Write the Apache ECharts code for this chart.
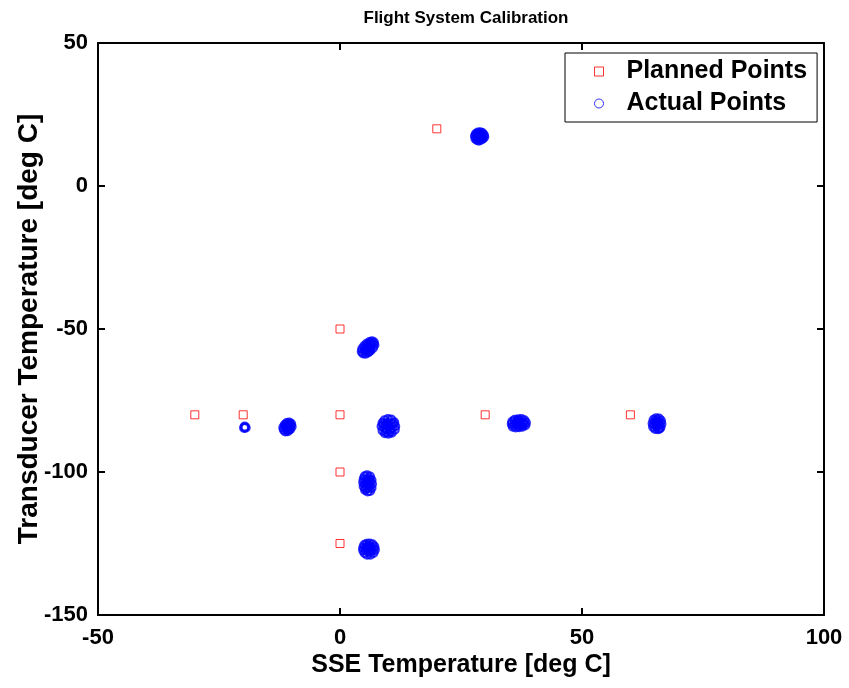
<!DOCTYPE html>
<html>
<head>
<meta charset="utf-8">
<script src="https://cdn.jsdelivr.net/npm/echarts@6/dist/echarts.min.js"></script>
<style>html,body{margin:0;padding:0;background:#fff;}#c{width:849px;height:688px;}</style>
</head>
<body>
<div id="c"></div>
<script>
var titleText = 'Flight System Calibration';
var xName = 'SSE Temperature [deg C]';
var yName = 'Transducer Temperature [deg C]';
var xTicks = [-50, 0, 50, 100];
var yTicks = [-150, -100, -50, 0, 50];

var plannedPoints = [[20,20],[0,-50],[-30,-80],[-20,-80],[0,-80],[30,-80],[60,-80],[0,-100],[0,-125]];

var clusterA = [[28.0,16.6],[28.3,16.1],[28.7,15.9],[29.1,16.2],[29.5,16.6],[29.8,17.2],[29.7,17.9],[29.4,18.5],[29.0,18.8],[28.5,18.7],[28.1,18.2],[27.9,17.5],[28.4,17.3],[28.8,17.0],[29.2,17.4],[28.9,17.9],[28.5,16.8],[29.3,16.9],[28.6,18.1],[28.8,17.6],[29.1,17.8],[28.3,17.8]];
var clusterB = [[4.5,-57.9],[4.8,-58.5],[5.3,-58.6],[5.8,-58.2],[6.3,-57.5],[6.8,-56.6],[7.1,-55.6],[7.0,-54.7],[6.6,-54.3],[6.1,-54.6],[5.5,-55.2],[5.0,-56.0],[4.6,-56.9],[5.4,-57.3],[5.9,-56.6],[6.4,-55.8],[5.7,-55.9],[6.2,-56.9],[5.1,-57.6],[6.7,-55.2],[5.2,-56.7],[6.0,-57.7],[6.3,-55.1]];
var clusterC = [[-19.7,-84.1],[-19.5,-84.5],[-19.8,-84.6]];
var clusterD = [[-11.6,-85.2],[-11.3,-85.8],[-10.8,-85.7],[-10.3,-85.0],[-10.0,-84.1],[-10.1,-83.2],[-10.5,-82.7],[-11.0,-82.9],[-11.4,-83.5],[-11.7,-84.4],[-11.0,-84.6],[-10.6,-84.0],[-10.7,-83.4],[-11.2,-84.0],[-10.5,-85.1],[-10.9,-85.2],[-10.3,-83.7]];
var clusterE = [[8.6,-84.0],[8.8,-85.5],[9.3,-86.4],[10.0,-86.6],[10.7,-86.2],[11.3,-85.2],[11.4,-84.0],[11.2,-82.6],[10.6,-81.7],[9.9,-81.5],[9.2,-81.9],[8.8,-82.8],[9.4,-83.5],[10.1,-84.0],[10.7,-83.3],[9.6,-85.0],[10.4,-85.2],[10.0,-82.6],[9.2,-84.6],[10.8,-84.5],[9.8,-83.2],[10.3,-85.9],[9.6,-86.0],[11.0,-83.0],[9.0,-83.3]];
var clusterF = [[35.5,-83.2],[35.7,-84.1],[36.3,-84.4],[37.0,-84.3],[37.7,-84.1],[38.3,-83.6],[38.4,-82.7],[38.1,-81.9],[37.5,-81.5],[36.8,-81.6],[36.1,-81.8],[35.6,-82.4],[36.4,-83.0],[37.2,-82.9],[37.8,-82.6],[36.7,-83.7],[37.4,-83.6],[36.6,-82.3],[37.1,-82.1],[36.0,-83.5],[37.9,-83.3]];
var clusterG = [[64.6,-83.0],[64.7,-84.2],[65.1,-84.9],[65.7,-85.0],[66.2,-84.4],[66.4,-83.2],[66.3,-82.0],[65.9,-81.3],[65.3,-81.2],[64.8,-81.8],[65.5,-83.1],[65.2,-82.4],[65.9,-82.6],[65.4,-84.0],[65.9,-83.7],[65.0,-83.4],[65.6,-81.9],[66.0,-84.8]];
var clusterH = [[4.9,-102.5],[5.1,-101.5],[5.6,-101.2],[6.2,-101.6],[6.5,-102.8],[6.6,-104.2],[6.5,-105.6],[6.2,-106.6],[5.7,-106.8],[5.2,-106.3],[4.9,-105.0],[4.8,-103.6],[5.4,-103.0],[5.9,-102.4],[6.0,-104.0],[5.5,-104.6],[5.9,-105.6],[5.3,-105.7],[6.2,-103.3],[5.2,-104.2],[5.7,-103.6],[6.1,-104.9]];
var clusterI = [[4.8,-126.5],[5.0,-125.6],[5.5,-125.1],[6.1,-125.0],[6.7,-125.3],[7.1,-126.1],[7.2,-127.2],[6.9,-128.3],[6.3,-128.9],[5.6,-128.9],[5.1,-128.3],[4.8,-127.4],[5.6,-126.3],[6.3,-126.3],[6.5,-127.5],[5.7,-127.6],[6.0,-126.9],[6.8,-126.7],[5.3,-126.9],[6.1,-128.1],[5.9,-125.8]];

var actualPoints = [].concat(clusterA, clusterB, clusterC, clusterD, clusterE, clusterF, clusterG, clusterH, clusterI);

var FONT = '"Liberation Sans", Arial, sans-serif';
var lineStyle = {color: '#000', width: 2};

var chart = echarts.init(document.getElementById('c'), null, {renderer: 'canvas'});
chart.setOption({
  animation: false,
  backgroundColor: '#fff',
  textStyle: {fontFamily: FONT},
  title: {
    text: titleText, left: 461, top: 5, textAlign: 'center',
    textStyle: {fontSize: 17, fontWeight: 'bold', color: '#000', fontFamily: FONT}
  },
  grid: {left: 98, right: 25, top: 43, bottom: 73, containLabel: false, outerBoundsMode: 'none'},
  legend: {
    left: 565, top: 53, orient: 'vertical',
    backgroundColor: '#fff', borderColor: '#000', borderWidth: 1, borderRadius: 0,
    padding: [6, 10, 6, 29], itemGap: 7, itemWidth: 9, itemHeight: 9,
    textStyle: {fontSize: 25, fontWeight: 'bold', color: '#000', fontFamily: FONT, padding: [0, 0, 0, 18]},
    data: [
      {name: 'Planned Points', icon: 'rect', itemStyle: {color: 'transparent', borderColor: '#ff0000', borderWidth: 1}},
      {name: 'Actual Points', icon: 'circle', itemStyle: {color: 'transparent', borderColor: '#0000ff', borderWidth: 1}}
    ]
  },
  xAxis: [{
    type: 'value', min: -50, max: 100, interval: 50, position: 'bottom',
    name: xName, nameLocation: 'middle', nameGap: 38, nameMoveOverlap: false,
    nameTextStyle: {fontSize: 25, fontWeight: 'bold', color: '#000', fontFamily: FONT},
    axisLine: {show: true, onZero: false, lineStyle: lineStyle},
    axisTick: {show: true, inside: true, length: 7, lineStyle: lineStyle},
    axisLabel: {fontSize: 22, fontWeight: 'bold', color: '#000', margin: 12, fontFamily: FONT},
    splitLine: {show: false}
  }, {
    type: 'value', min: -50, max: 100, interval: 50, position: 'top',
    axisLine: {show: true, onZero: false, lineStyle: lineStyle},
    axisTick: {show: true, inside: true, length: 7, lineStyle: lineStyle},
    axisLabel: {show: false}, splitLine: {show: false}
  }],
  yAxis: [{
    type: 'value', min: -150, max: 50, interval: 50, position: 'left',
    name: yName, nameLocation: 'middle', nameGap: 55, nameRotate: 90, nameMoveOverlap: false,
    nameTextStyle: {fontSize: 28, fontWeight: 'bold', color: '#000', fontFamily: FONT},
    axisLine: {show: true, onZero: false, lineStyle: lineStyle},
    axisTick: {show: true, inside: true, length: 7, lineStyle: lineStyle},
    axisLabel: {fontSize: 22, fontWeight: 'bold', color: '#000', margin: 10, fontFamily: FONT},
    splitLine: {show: false}
  }, {
    type: 'value', min: -150, max: 50, interval: 50, position: 'right',
    axisLine: {show: true, onZero: false, lineStyle: lineStyle},
    axisTick: {show: true, inside: true, length: 7, lineStyle: lineStyle},
    axisLabel: {show: false}, splitLine: {show: false}
  }],
  series: [{
    name: 'Planned Points', type: 'scatter', xAxisIndex: 0, yAxisIndex: 0,
    symbol: 'rect', symbolSize: 8, data: plannedPoints,
    itemStyle: {color: 'transparent', borderColor: '#ff0000', borderWidth: 1}
  }, {
    name: 'Actual Points', type: 'scatter', xAxisIndex: 0, yAxisIndex: 0,
    symbol: 'circle', symbolSize: 8, data: actualPoints,
    itemStyle: {color: 'transparent', borderColor: '#0000ff', borderWidth: 2.2}
  }]
});
</script>
</body>
</html>
